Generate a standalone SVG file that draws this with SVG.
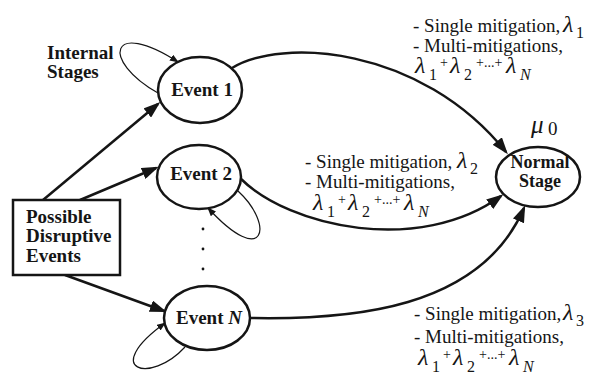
<svg xmlns="http://www.w3.org/2000/svg" width="589" height="378" viewBox="0 0 589 378" font-family="'Liberation Serif', 'DejaVu Serif', serif">
  <style>
    text { font-family: 'Liberation Serif', 'DejaVu Serif', serif; fill: #151515; }
    .node { fill: #ffffff; stroke: #151515; stroke-width: 2.5; }
    .lbl { font-weight: bold; font-size: 19px; }
    .edge { fill: none; stroke: #151515; stroke-width: 2.5; }
    .loop { fill: none; stroke: #151515; stroke-width: 1.2; }
    .rate { font-size: 19px; }
    .lam { font-style: italic; font-size: 24px; }
    .sub { font-size: 16px; }
    .plus { font-size: 14px; }
  </style>
  <defs>
    <marker id="big" markerUnits="userSpaceOnUse" markerWidth="18" markerHeight="12" refX="14" refY="6" orient="auto">
      <path d="M0,0 L17,6 L0,12 z" fill="#151515"/>
    </marker>
    <marker id="small" markerUnits="userSpaceOnUse" markerWidth="10" markerHeight="7" refX="8" refY="3.5" orient="auto">
      <path d="M0,0 L9,3.5 L0,7 z" fill="#151515"/>
    </marker>
  </defs>

  <!-- connectors -->
  <g id="connectors">
    <path class="edge" d="M43,200 L158,104" marker-end="url(#big)"/>
    <path class="edge" d="M80,200 L156,168" marker-end="url(#big)"/>
    <path class="edge" d="M65,275 L164,311" marker-end="url(#big)"/>
    <path class="edge" d="M232,68 C280,38 420,45 506,152" marker-end="url(#big)"/>
    <path class="edge" d="M240,178 C290,228 420,255 501,196" marker-end="url(#big)"/>
    <path class="edge" d="M250,318 C350,320 480,310 524,208" marker-end="url(#big)"/>
    <!-- self loops -->
    <path class="loop" d="M158,93 C100,60 110,18 178,62" marker-end="url(#small)"/>
    <path class="loop" d="M238,191 C275,225 265,270 208,208" marker-end="url(#small)"/>
    <path class="loop" d="M185,347 C150,385 100,370 165,323" marker-end="url(#small)"/>
  </g>

  <!-- source box -->
  <g id="source">
    <rect class="node" x="13" y="200" width="107" height="75"/>
    <text class="lbl" x="26" y="223">Possible</text>
    <text class="lbl" x="26" y="242">Disruptive</text>
    <text class="lbl" x="26" y="262">Events</text>
  </g>

  <g id="event1">
    <ellipse class="node" cx="200" cy="90" rx="42" ry="33"/>
    <text class="lbl" x="202" y="96" text-anchor="middle">Event 1</text>
  </g>
  <g id="event2">
    <ellipse class="node" cx="199" cy="177" rx="42" ry="32"/>
    <text class="lbl" x="201" y="180" text-anchor="middle">Event 2</text>
  </g>
  <!-- vertical ellipsis between the intermediate events -->
  <g id="more-events" fill="#151515">
    <circle cx="203" cy="229" r="1.4"/>
    <circle cx="203" cy="249" r="1.4"/>
    <circle cx="203" cy="269" r="1.4"/>
  </g>
  <g id="eventN">
    <ellipse class="node" cx="207" cy="318" rx="43" ry="32"/>
    <text class="lbl" x="209" y="324" text-anchor="middle">Event <tspan font-style="italic">N</tspan></text>
  </g>
  <g id="normal">
    <ellipse class="node" cx="538" cy="177" rx="42" ry="30"/>
    <text class="lbl" x="540" y="168" text-anchor="middle" style="font-size:18px">Normal</text>
    <text class="lbl" x="540" y="187" text-anchor="middle" style="font-size:18px">Stage</text>
    <text class="rate"><tspan class="lam" x="531" y="133" style="font-size:25px">μ</tspan><tspan x="548" y="135" style="font-size:19px">0</tspan></text>
  </g>

  <!-- loop annotation -->
  <g id="internal">
    <text class="lbl" x="47" y="59">Internal</text>
    <text class="lbl" x="47" y="78">Stages</text>
  </g>

  <!-- rate labels -->
  <g id="rates">
    <text class="rate" x="413" y="32">- Single mitigation,</text>
    <text class="rate lam" x="563" y="32">λ</text>
    <text class="rate sub" x="576" y="38">1</text>
    <text class="rate" x="413" y="52">- Multi-mitigations,</text>
    <text class="rate"><tspan class="lam" x="415" y="73">λ</tspan><tspan class="sub" x="429" y="80">1</tspan><tspan class="plus" x="440" y="67">+</tspan><tspan class="lam" x="450" y="73">λ</tspan><tspan class="sub" x="464" y="80">2</tspan><tspan class="plus" x="476" y="67">+...+</tspan><tspan class="lam" x="506" y="73">λ</tspan><tspan class="sub" x="520" y="80" font-style="italic">N</tspan></text>

    <text class="rate" x="305" y="168">- Single mitigation,</text>
    <text class="rate lam" x="457" y="168">λ</text>
    <text class="rate sub" x="470" y="174">2</text>
    <text class="rate" x="305" y="188">- Multi-mitigations,</text>
    <text class="rate"><tspan class="lam" x="313" y="210">λ</tspan><tspan class="sub" x="327" y="217">1</tspan><tspan class="plus" x="338" y="204">+</tspan><tspan class="lam" x="348" y="210">λ</tspan><tspan class="sub" x="362" y="217">2</tspan><tspan class="plus" x="374" y="204">+...+</tspan><tspan class="lam" x="404" y="210">λ</tspan><tspan class="sub" x="418" y="217" font-style="italic">N</tspan></text>

    <text class="rate" x="414" y="320">- Single mitigation,</text>
    <text class="rate lam" x="563" y="320">λ</text>
    <text class="rate sub" x="576" y="326">3</text>
    <text class="rate" x="414" y="343">- Multi-mitigations,</text>
    <text class="rate"><tspan class="lam" x="418" y="365">λ</tspan><tspan class="sub" x="432" y="372">1</tspan><tspan class="plus" x="443" y="359">+</tspan><tspan class="lam" x="453" y="365">λ</tspan><tspan class="sub" x="467" y="372">2</tspan><tspan class="plus" x="479" y="359">+...+</tspan><tspan class="lam" x="509" y="365">λ</tspan><tspan class="sub" x="523" y="372" font-style="italic">N</tspan></text>
  </g>
</svg>
